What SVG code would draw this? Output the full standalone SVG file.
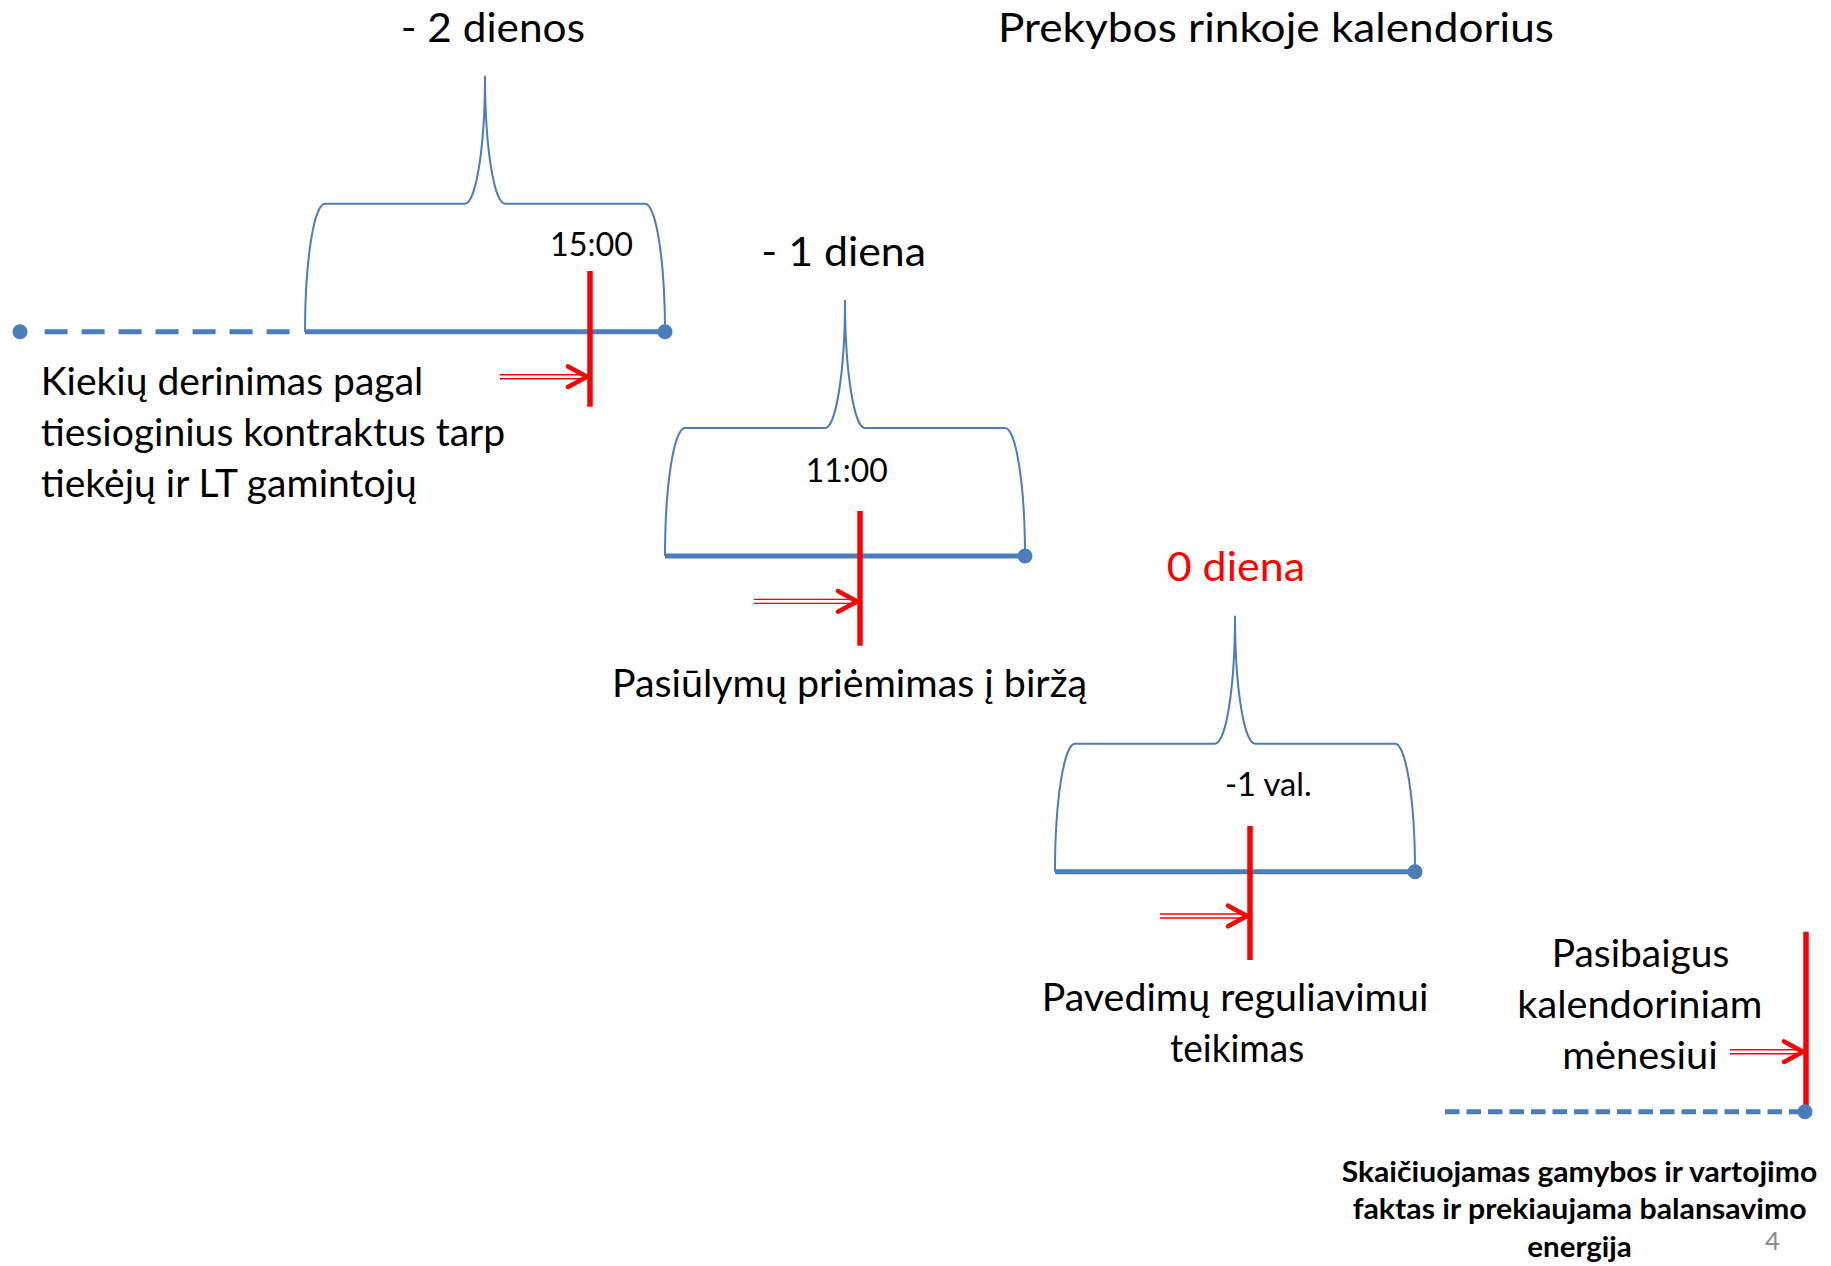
<svg xmlns="http://www.w3.org/2000/svg" width="1831" height="1266" viewBox="0 0 1831 1266">
<style>
text{font-family:Lato,"Carlito","Open Sans",sans-serif;fill:#000}
.h{font-size:41.5px}
.b{font-size:38.5px}
.t{font-size:33px}
.bold{font-size:29px;font-weight:bold}
.red{fill:#FF0000}
.brace{fill:none;stroke:#4A7EBB;stroke-width:2}
.axis{fill:none;stroke:#4A7EBB;stroke-width:5}
.dash1{stroke-dasharray:23 14}
.dash2{stroke-dasharray:14.5 7}
.dot{fill:#4A7EBB}
.mark{stroke:#FF0000;stroke-width:5.5}
.shaft{stroke:#FF0000;stroke-width:1.4}
.head{fill:none;stroke:#FF0000;stroke-width:4.5;stroke-linecap:round;stroke-linejoin:round}
.pg{font-size:25.5px;fill:#898989}
</style>

<g id="title">
<text class="h" x="998" y="41.5" textLength="556" lengthAdjust="spacingAndGlyphs">Prekybos rinkoje kalendorius</text>
</g>

<g id="timeline-minus2">
<text class="h" x="400.7" y="41.5" textLength="184.3" lengthAdjust="spacingAndGlyphs">- 2 dienos</text>
<path class="brace" d="M305,331.7 A20,128 0 0 1 325,203.7 L465,203.7 A20,128 0 0 0 485,75.7 A20,128 0 0 0 505,203.7 L645,203.7 A20,128 0 0 1 665,331.7"/>
<line class="axis dash1" x1="44.6" y1="331.7" x2="297" y2="331.7"/>
<line class="axis" x1="305" y1="331.7" x2="665" y2="331.7"/>
<circle class="dot" cx="20" cy="331.7" r="7.5"/>
<circle class="dot" cx="665" cy="331.7" r="7.5"/>
<text class="t" x="550" y="256" textLength="83" lengthAdjust="spacingAndGlyphs">15:00</text>
<line class="mark" x1="590" y1="271" x2="590" y2="406.7"/>
<text class="b" x="40.7" y="395" textLength="382.6" lengthAdjust="spacingAndGlyphs">Kiekių derinimas pagal</text>
<text class="b" x="40.7" y="446" textLength="464.5" lengthAdjust="spacingAndGlyphs">tiesioginius kontraktus tarp</text>
<text class="b" x="40.7" y="497" textLength="376" lengthAdjust="spacingAndGlyphs">tiekėjų ir LT gamintojų</text>
</g>

<g id="timeline-minus1">
<text class="h" x="761.3" y="265.5" textLength="164.7" lengthAdjust="spacingAndGlyphs">- 1 diena</text>
<path class="brace" d="M665,556 A20,128 0 0 1 685,428 L825,428 A20,128 0 0 0 845,300 A20,128 0 0 0 865,428 L1005,428 A20,128 0 0 1 1025,556"/>
<line class="axis" x1="665" y1="556" x2="1025" y2="556"/>
<circle class="dot" cx="1025" cy="556" r="7.5"/>
<text class="t" x="805.7" y="482" textLength="82" lengthAdjust="spacingAndGlyphs">11:00</text>
<line class="mark" x1="860" y1="511" x2="860" y2="645.7"/>
<text class="b" x="612" y="697" textLength="475" lengthAdjust="spacingAndGlyphs">Pasiūlymų priėmimas į biržą</text>
</g>

<g id="timeline-0">
<text class="h red" x="1166.7" y="580.5" textLength="138.3" lengthAdjust="spacingAndGlyphs">0 diena</text>
<path class="brace" d="M1055,871.7 A20,128 0 0 1 1075,743.7 L1215,743.7 A20,128 0 0 0 1235,615.7 A20,128 0 0 0 1255,743.7 L1395,743.7 A20,128 0 0 1 1415,871.7"/>
<line class="axis" x1="1055" y1="871.7" x2="1415" y2="871.7"/>
<circle class="dot" cx="1415" cy="871.7" r="7.5"/>
<text class="t" x="1225" y="796" textLength="86.7" lengthAdjust="spacingAndGlyphs">-1 val.</text>
<line class="mark" x1="1250" y1="826" x2="1250" y2="960"/>
<text class="b" x="1041.7" y="1011" textLength="386.7" lengthAdjust="spacingAndGlyphs">Pavedimų reguliavimui</text>
<text class="b" x="1170" y="1062" textLength="134.3" lengthAdjust="spacingAndGlyphs">teikimas</text>
</g>

<g id="timeline-month">
<text class="b" x="1551.7" y="966.5" textLength="177.6" lengthAdjust="spacingAndGlyphs">Pasibaigus</text>
<text class="b" x="1517.3" y="1017.5" textLength="245" lengthAdjust="spacingAndGlyphs">kalendoriniam</text>
<text class="b" x="1562.3" y="1068.5" textLength="155.4" lengthAdjust="spacingAndGlyphs">mėnesiui</text>
<line class="axis dash2" x1="1445" y1="1111.7" x2="1805" y2="1111.7"/>
<line class="mark" x1="1806" y1="931.7" x2="1806" y2="1111.7"/>
<circle class="dot" cx="1805" cy="1111.7" r="7.5"/>
<text class="bold" x="1341.7" y="1181.5" textLength="475.6" lengthAdjust="spacingAndGlyphs">Skaičiuojamas gamybos ir vartojimo</text>
<text class="bold" x="1352.7" y="1219" textLength="454" lengthAdjust="spacingAndGlyphs">faktas ir prekiaujama balansavimo</text>
<text class="bold" x="1527.3" y="1257" textLength="104.4" lengthAdjust="spacingAndGlyphs">energija</text>
</g>

<g id="connectors">
<line class="shaft" x1="500" y1="374.7" x2="584" y2="374.7"/>
<line class="shaft" x1="500" y1="378.7" x2="584" y2="378.7"/>
<path class="head" d="M568,366.4 L587,376.7 L568,387"/>
<line class="shaft" x1="754" y1="599.4" x2="854" y2="599.4"/>
<line class="shaft" x1="754" y1="603.4" x2="854" y2="603.4"/>
<path class="head" d="M838,591.1 L857,601.4 L838,611.7"/>
<line class="shaft" x1="1160" y1="914" x2="1244" y2="914"/>
<line class="shaft" x1="1160" y1="918" x2="1244" y2="918"/>
<path class="head" d="M1228,905.7 L1247,916 L1228,926.3"/>
<line class="shaft" x1="1730" y1="1049.7" x2="1800" y2="1049.7"/>
<line class="shaft" x1="1730" y1="1053.7" x2="1800" y2="1053.7"/>
<path class="head" d="M1784,1041.4 L1803,1051.7 L1784,1062"/>
</g>

<g id="page-number">
<text class="pg" x="1765" y="1250">4</text>
</g>
</svg>
